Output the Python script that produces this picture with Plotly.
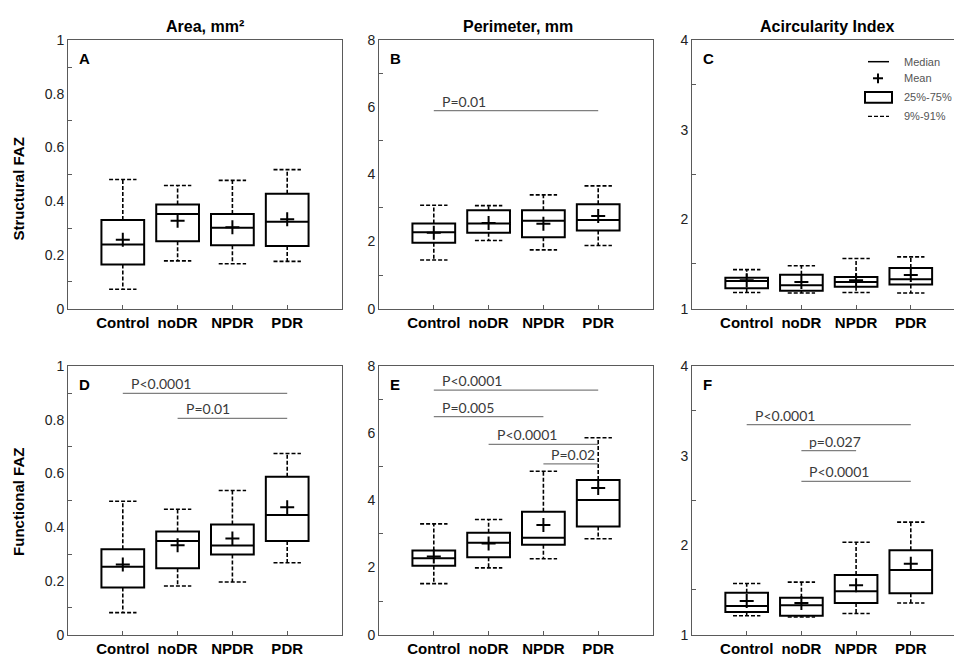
import plotly.graph_objects as go

W, H = 954, 669

groups = ["Control", "noDR", "NPDR", "PDR"]

# Structural FAZ - Area (A)
a_low = [0.072, 0.178, 0.167, 0.176]
a_q1 = [0.164, 0.251, 0.236, 0.233]
a_med = [0.239, 0.353, 0.301, 0.324]
a_q3 = [0.330, 0.388, 0.353, 0.428]
a_high = [0.481, 0.459, 0.478, 0.518]
a_mean = [0.257, 0.327, 0.303, 0.333]

# Structural FAZ - Perimeter (B)
b_low = [1.45, 2.03, 1.75, 1.88]
b_q1 = [1.96, 2.26, 2.13, 2.33]
b_med = [2.28, 2.54, 2.62, 2.64]
b_q3 = [2.54, 2.93, 2.93, 3.11]
b_high = [3.08, 3.07, 3.39, 3.66]
b_mean = [2.26, 2.55, 2.53, 2.76]

# Structural FAZ - Acircularity (C)
c_low = [1.18, 1.175, 1.18, 1.175]
c_q1 = [1.229, 1.20, 1.244, 1.269]
c_med = [1.309, 1.262, 1.298, 1.327]
c_q3 = [1.345, 1.38, 1.353, 1.455]
c_high = [1.436, 1.48, 1.56, 1.578]
c_mean = [1.316, 1.298, 1.316, 1.375]

# Functional FAZ - Area (D)
d_low = [0.082, 0.181, 0.196, 0.268]
d_q1 = [0.176, 0.247, 0.299, 0.349]
d_med = [0.253, 0.349, 0.332, 0.446]
d_q3 = [0.318, 0.384, 0.410, 0.588]
d_high = [0.497, 0.467, 0.537, 0.675]
d_mean = [0.261, 0.333, 0.358, 0.475]

# Functional FAZ - Perimeter (E)
e_low = [1.52, 1.99, 2.26, 2.86]
e_q1 = [2.05, 2.31, 2.68, 3.22]
e_med = [2.28, 2.74, 2.89, 4.01]
e_q3 = [2.51, 3.04, 3.66, 4.61]
e_high = [3.30, 3.43, 4.87, 5.87]
e_mean = [2.33, 2.72, 3.27, 4.37]

# Functional FAZ - Acircularity (F)
f_low = [1.211, 1.197, 1.237, 1.354]
f_q1 = [1.252, 1.211, 1.354, 1.463]
f_med = [1.321, 1.328, 1.485, 1.722]
f_q3 = [1.467, 1.412, 1.667, 1.944]
f_high = [1.572, 1.587, 2.032, 2.258]
f_mean = [1.375, 1.354, 1.551, 1.791]

# significance brackets: (from group, to group, y, label)
sig_b = [(0, 3, 5.90, "P=0.01")]
sig_d = [(0, 3, 0.899, "P<0.0001"), (1, 3, 0.806, "P=0.01")]
sig_e = [(0, 3, 7.29, "P<0.0001"), (0, 2, 6.50, "P=0.005"),
         (1, 3, 5.67, "P<0.0001"), (2, 3, 5.09, "P=0.02")]
sig_f = [(0, 3, 3.348, "P<0.0001"), (1, 2, 3.056, "p=0.027"),
         (1, 3, 2.713, "P<0.0001")]

col_titles = ["Area, mm²", "Perimeter, mm", "Acircularity Index"]
row_titles = ["Structural FAZ", "Functional FAZ"]
letters = ["A", "B", "C", "D", "E", "F"]
legend_labels = ["Median", "Mean", "25%-75%", "9%-91%"]


def px(x):
    return x / W


def py(y):
    return 1 - y / H


panels = [
    dict(stats=(a_low, a_q1, a_med, a_q3, a_high, a_mean), sig=[], xd=(68, 342), yd=(33, 308),
         yr=[0, 1], dt=0.2, mdt=0.1, xr=[-1, 4], right=True),
    dict(stats=(b_low, b_q1, b_med, b_q3, b_high, b_mean), sig=sig_b, xd=(379, 653), yd=(33, 308),
         yr=[0, 8], dt=2, mdt=1, xr=[-1, 4], right=True),
    dict(stats=(c_low, c_q1, c_med, c_q3, c_high, c_mean), sig=[], xd=(692, 954), yd=(33, 308),
         yr=[1, 4], dt=1, mdt=0.5, xr=[-1, 3.79], right=False),
    dict(stats=(d_low, d_q1, d_med, d_q3, d_high, d_mean), sig=sig_d, xd=(68, 342), yd=(367, 642),
         yr=[0, 1], dt=0.2, mdt=0.1, xr=[-1, 4], right=True),
    dict(stats=(e_low, e_q1, e_med, e_q3, e_high, e_mean), sig=sig_e, xd=(379, 653), yd=(367, 642),
         yr=[0, 8], dt=2, mdt=1, xr=[-1, 4], right=True),
    dict(stats=(f_low, f_q1, f_med, f_q3, f_high, f_mean), sig=sig_f, xd=(692, 954), yd=(367, 642),
         yr=[1, 4], dt=1, mdt=0.5, xr=[-1, 3.79], right=False),
]

FRAME = "#5a5a5a"
fig = go.Figure()
annotations = []
shapes = []
pos = list(range(len(groups)))
cap = 0.25
layout_axes = {}

for k, p in enumerate(panels):
    n = "" if k == 0 else str(k + 1)
    xa, ya = "x" + n, "y" + n
    low, q1, med, q3, high, mean = p["stats"]

    # whiskers
    wx, wy = [], []
    for i in pos:
        wx += [i, i, None, i, i, None, i - cap, i + cap, None, i - cap, i + cap, None]
        wy += [q3[i], high[i], None, q1[i], low[i], None, high[i], high[i], None, low[i], low[i], None]
    fig.add_trace(go.Scatter(x=wx, y=wy, mode="lines", xaxis=xa, yaxis=ya,
                             line=dict(color="black", width=1.6, dash="4px,2px"),
                             showlegend=False, hoverinfo="skip"))
    # boxes
    fig.add_trace(go.Box(x=pos, q1=q1, median=med, q3=q3, lowerfence=q1, upperfence=q3,
                         width=0.78, whiskerwidth=0, boxpoints=False, fillcolor="white",
                         line=dict(color="black", width=2), xaxis=xa, yaxis=ya,
                         showlegend=False, hoverinfo="skip"))
    # means
    fig.add_trace(go.Scatter(x=pos, y=mean, mode="markers", xaxis=xa, yaxis=ya,
                             marker=dict(symbol="cross-thin", size=10,
                                         line=dict(color="black", width=2)),
                             showlegend=False, hoverinfo="skip"))
    # significance lines
    for (i0, i1, yv, lab) in p["sig"]:
        fig.add_trace(go.Scatter(x=[i0, i1], y=[yv, yv], mode="lines", xaxis=xa, yaxis=ya,
                                 line=dict(color="#7f7f7f", width=1.3),
                                 showlegend=False, hoverinfo="skip"))
        annotations.append(dict(x=i0, y=yv, xref=xa, yref=ya, text=lab, showarrow=False,
                                xanchor="left", yanchor="bottom", xshift=6, yshift=-1,
                                font=dict(family="Lato", size=14, color="#3a3a3a")))

    layout_axes["xaxis" + n] = dict(
        domain=[px(p["xd"][0]), px(p["xd"][1])], range=p["xr"], anchor=ya,
        tickvals=pos, ticktext=groups, ticks="inside", ticklen=4, tickcolor=FRAME,
        showline=True, linecolor=FRAME, linewidth=1, mirror=True,
        showgrid=False, zeroline=False, fixedrange=True,
        tickfont=dict(family="Liberation Sans", size=15, color="black", weight="bold"),
    )
    layout_axes["yaxis" + n] = dict(
        domain=[py(p["yd"][1]), py(p["yd"][0])], range=p["yr"], anchor=xa,
        dtick=p["dt"], tick0=p["yr"][0], ticks="", showline=True, linecolor=FRAME, linewidth=1,
        mirror=p["right"], showgrid=False, zeroline=False, fixedrange=True,
        minor=dict(ticks="inside", ticklen=4, dtick=p["mdt"], tickcolor=FRAME, showgrid=False),
        tickfont=dict(family="Liberation Sans", size=14, color="#222222"),
    )

    # panel letter
    annotations.append(dict(x=px(p["xd"][0] + 9), y=py(p["yd"][0] + 19), xref="paper", yref="paper",
                            text=letters[k], showarrow=False, xanchor="left", yanchor="middle",
                            font=dict(family="Liberation Sans", size=15, color="black", weight="bold")))

# column titles
for t, cx in zip(col_titles, [205, 518, 827]):
    annotations.append(dict(x=px(cx), y=py(19), xref="paper", yref="paper", text=t, showarrow=False,
                            xanchor="center", yanchor="middle",
                            font=dict(family="Liberation Sans", size=16, color="black", weight="bold")))
# row titles
for t, cy in zip(row_titles, [186, 506]):
    annotations.append(dict(x=px(19), y=py(cy), xref="paper", yref="paper", text=t, showarrow=False,
                            textangle=-90, xanchor="center", yanchor="middle",
                            font=dict(family="Liberation Sans", size=15, color="black", weight="bold")))

# legend (panel C)
lg = dict(color="black", width=1.5)
shapes.append(dict(type="line", xref="paper", yref="paper", x0=px(868), x1=px(889), y0=py(55), y1=py(55),
                   line=lg))
shapes.append(dict(type="line", xref="paper", yref="paper", x0=px(873), x1=px(883), y0=py(72), y1=py(72),
                   line=dict(color="black", width=2)))
shapes.append(dict(type="line", xref="paper", yref="paper", x0=px(878), x1=px(878), y0=py(67), y1=py(77),
                   line=dict(color="black", width=2)))
shapes.append(dict(type="rect", xref="paper", yref="paper", x0=px(865), x1=px(892), y0=py(97), y1=py(86),
                   line=dict(color="black", width=2)))
shapes.append(dict(type="line", xref="paper", yref="paper", x0=px(868), x1=px(889), y0=py(111), y1=py(111),
                   line=dict(color="black", width=1.3, dash="4px,2px")))
for lab, yy in zip(legend_labels, [55, 72, 91, 111]):
    annotations.append(dict(x=px(902), y=py(yy), xref="paper", yref="paper", text=lab, showarrow=False,
                            xanchor="left", yanchor="middle",
                            font=dict(family="Liberation Sans Narrow, Liberation Sans", size=11,
                                      color="#555555")))

fig.update_layout(
    width=W, height=H, margin=dict(l=0, r=0, t=0, b=0),
    paper_bgcolor="white", plot_bgcolor="white",
    annotations=annotations, shapes=shapes, showlegend=False,
    **layout_axes,
)

fig.write_html("out.html", config={"displayModeBar": False},
               post_script="document.body.style.margin='0';document.body.style.overflow='hidden';")
